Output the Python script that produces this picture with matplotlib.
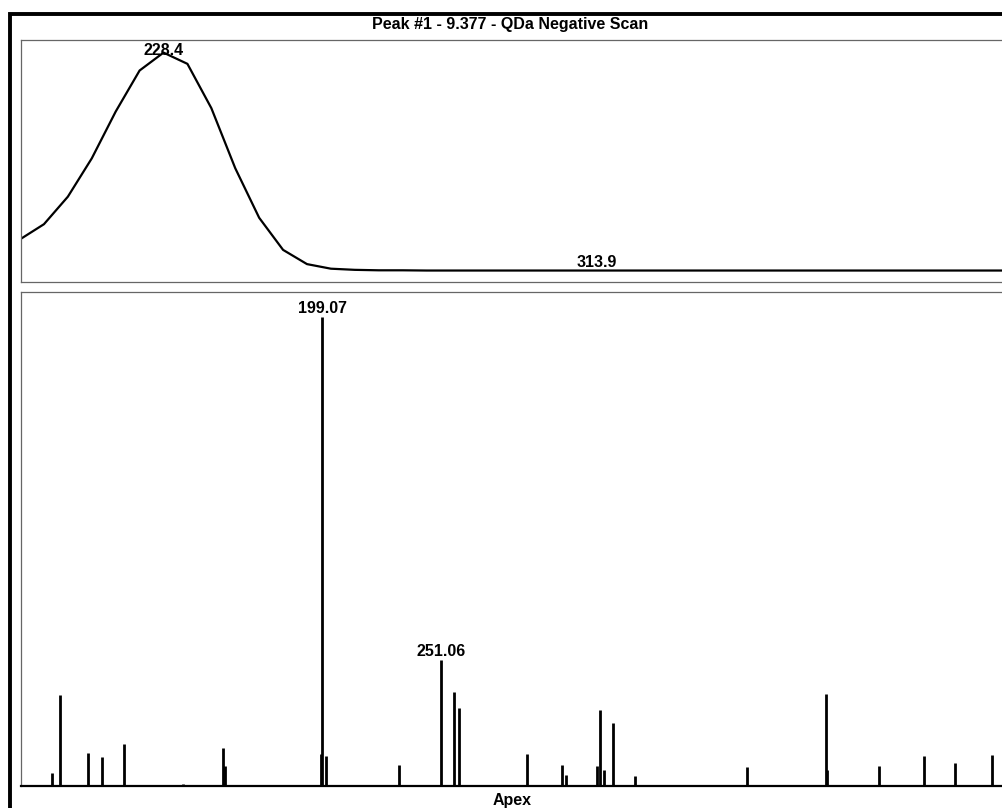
import matplotlib.pyplot as plt
from matplotlib.patches import Rectangle

plt.rcParams['font.family'] = ['Liberation Sans', 'DejaVu Sans']

# chromatogram trace (scan index, relative intensity %)
scan = list(range(43))
trace = [18.6, 25.2, 37.2, 53.9, 74.3, 92.2, 100.0, 95.1, 75.8, 49.6,
         28.0, 14.0, 7.8, 5.8, 5.3, 5.1, 5.1, 5.0, 5.0, 5.0,
         5.0, 5.0, 5.0, 5.0, 5.0, 5.0, 5.0, 5.0, 5.0, 5.0,
         5.0, 5.0, 5.0, 5.0, 5.0, 5.0, 5.0, 5.0, 5.0, 5.0,
         5.0, 5.0, 5.0]
trace_labels = [(6, 100.0, "228.4"), (24.1, 5.0, "313.9")]

# mass spectrum at apex (m/z, relative intensity %)
mz = [80.7, 84.5, 96.6, 102.6, 112.4, 138.1, 155.7, 156.4, 198.6, 199.07,
      200.8, 232.9, 251.06, 257.0, 259.1, 288.9, 304.3, 305.8, 319.5, 321.0,
      322.5, 326.4, 336.0, 385.4, 419.7, 420.3, 443.2, 462.6, 476.5, 492.4]
intensity = [2.8, 19.4, 7.0, 6.2, 9.0, 0.4, 8.2, 4.3, 6.8, 100.0,
             6.5, 4.5, 26.9, 20.1, 16.7, 6.8, 4.5, 2.3, 4.2, 16.2,
             3.4, 13.4, 2.1, 4.1, 19.6, 3.4, 4.2, 6.3, 4.8, 6.7]
spec_labels = [(199.07, 100.0, "199.07"), (251.06, 26.9, "251.06")]

W, H = 1002, 808
fig = plt.figure(figsize=(W / 100, H / 100), dpi=100)

# outer frame (right and bottom fall outside the picture)
fig.patches.append(Rectangle((10 / W, -0.05), 1.2, 1 - 13.5 / H + 0.05,
                             transform=fig.transFigure, fill=False,
                             edgecolor='black', linewidth=2.8))

fs = 11.5
fig.text(510 / W, 1 - 25 / H, "Peak #1 - 9.377 - QDa Negative Scan",
         ha='center', va='center', fontsize=fs, fontweight='bold')

left = 21 / W
right = 1010 / W
ax1 = fig.add_axes([left, 1 - 282 / H, right - left, (282 - 40) / H])
ax2 = fig.add_axes([left, 1 - 786 / H, right - left, (786 - 292) / H])

ax1.plot(scan, trace, color='black', linewidth=1.6)
ax1.set_xlim(0.04, 41.4)
ax1.set_ylim(0, 105.5)
for x, y, txt in trace_labels:
    ax1.annotate(txt, (x, y), xytext=(0, 2.5 if txt != "228.4" else -1.5),
                 textcoords='offset points', ha='center', va='baseline',
                 fontsize=fs, fontweight='bold')

ax2.vlines(mz, 0, intensity, color='black', linewidth=2.0)
ax2.set_xlim(67.2, 500.4)
ax2.set_ylim(0, 105.3)
for x, y, txt in spec_labels:
    ax2.annotate(txt, (x, y), xytext=(0, 2.5), textcoords='offset points',
                 ha='center', va='baseline', fontsize=fs, fontweight='bold')

for ax in (ax1, ax2):
    ax.set_xticks([])
    ax.set_yticks([])
    for s in ax.spines.values():
        s.set_color('#666666')
        s.set_linewidth(0.9)
ax2.spines['bottom'].set_color('black')
ax2.spines['bottom'].set_linewidth(1.6)

fig.text(512 / W, 1 - 800 / H, "Apex", ha='center', va='center',
         fontsize=fs, fontweight='bold')

fig.savefig("out.png", dpi=100)
